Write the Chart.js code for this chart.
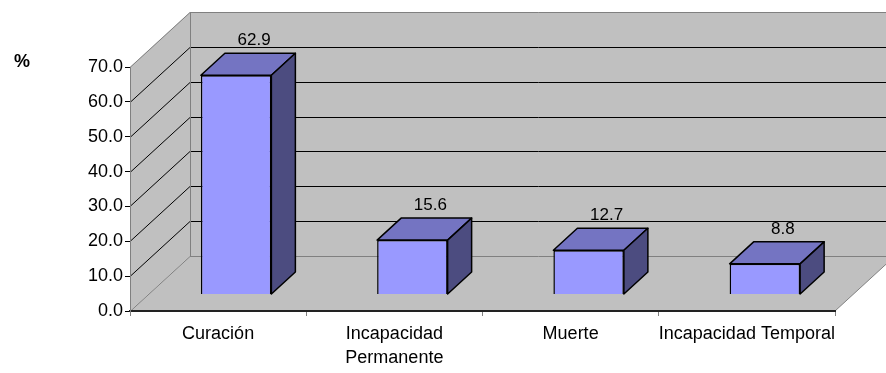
<!DOCTYPE html>
<html>
<head>
<meta charset="utf-8">
<script src="https://cdn.jsdelivr.net/npm/chart.js@4.4.1/dist/chart.umd.min.js"></script>
<style>
  html, body { margin: 0; padding: 0; background: #ffffff; }
  canvas { display: block; }
</style>
</head>
<body>
<canvas id="chart" width="886" height="373"></canvas>
<script>
// Outcome categories (multi-line labels as arrays)
const categories = [
  ['Curación'],
  ['Incapacidad', 'Permanente'],
  ['Muerte'],
  ['Incapacidad Temporal']
];
// Percentage for each outcome
const values = [62.9, 15.6, 12.7, 8.8];
// Value axis range and step
const yMin = 0;
const yMax = 70;
const yStep = 10;
const yAxisTitle = '%';

const FONT = "'Liberation Sans', Arial, sans-serif";

// 3D look: wall depth and the bar slab placement within that depth
const DEPTH_X = 60, DEPTH_Y = 55;
const BAR_FRONT = 0.3, BAR_DEPTH = 0.4;

const COLORS = {
  wall: '#c0c0c0',
  wallEdge: '#808080',
  grid: '#000000',
  front: '#9999ff',
  top: '#7474c2',
  side: '#4c4c80',
  outline: '#000000'
};

const walls3d = {
  id: 'walls3d',
  beforeDraw(chart) {
    const { ctx, chartArea: a, scales } = chart;
    const y = scales.y;
    const L = a.left, R = a.right, T = a.top, B = a.bottom;
    ctx.save();
    ctx.fillStyle = '#ffffff';
    ctx.fillRect(0, 0, chart.width, chart.height);

    // back wall
    ctx.fillStyle = COLORS.wall;
    ctx.fillRect(L + DEPTH_X, T - DEPTH_Y, R - L, B - T);
    // side wall
    ctx.beginPath();
    ctx.moveTo(L, T); ctx.lineTo(L + DEPTH_X, T - DEPTH_Y);
    ctx.lineTo(L + DEPTH_X, B - DEPTH_Y); ctx.lineTo(L, B);
    ctx.closePath(); ctx.fill();
    // floor
    ctx.beginPath();
    ctx.moveTo(L, B); ctx.lineTo(R, B);
    ctx.lineTo(R + DEPTH_X, B - DEPTH_Y); ctx.lineTo(L + DEPTH_X, B - DEPTH_Y);
    ctx.closePath(); ctx.fill();

    // gridlines on back and side walls
    ctx.lineWidth = 1;
    for (let v = yMin; v <= yMax; v += yStep) {
      const py = Math.round(y.getPixelForValue(v)) + 0.5;
      const edge = (v === yMin || v === yMax);
      ctx.strokeStyle = edge ? COLORS.wallEdge : COLORS.grid;
      ctx.beginPath();
      ctx.moveTo(L, py); ctx.lineTo(L + DEPTH_X, py - DEPTH_Y);
      ctx.lineTo(R + DEPTH_X, py - DEPTH_Y);
      ctx.stroke();
    }
    // wall edges
    ctx.strokeStyle = COLORS.wallEdge;
    ctx.beginPath();
    ctx.moveTo(L + DEPTH_X + 0.5, T - DEPTH_Y);
    ctx.lineTo(L + DEPTH_X + 0.5, B - DEPTH_Y);
    ctx.moveTo(R, B); ctx.lineTo(R + DEPTH_X, B - DEPTH_Y);
    ctx.stroke();

    // value-axis unit
    ctx.fillStyle = '#000';
    ctx.font = 'bold 18px ' + FONT;
    ctx.textAlign = 'center';
    ctx.textBaseline = 'middle';
    ctx.fillText(yAxisTitle, 22, T - 5);
    ctx.restore();
  },
  beforeDatasetsDraw(chart) {
    chart.ctx.save();
    chart.ctx.translate(DEPTH_X * BAR_FRONT, -DEPTH_Y * BAR_FRONT);
  },
  afterDatasetsDraw(chart) {
    const ctx = chart.ctx;
    const meta = chart.getDatasetMeta(0);
    const dx = DEPTH_X * BAR_DEPTH, dy = DEPTH_Y * BAR_DEPTH;
    ctx.lineWidth = 1.5;
    ctx.strokeStyle = COLORS.outline;
    ctx.lineJoin = 'round';
    meta.data.forEach((bar, i) => {
      const p = bar.getProps(['x', 'y', 'base', 'width'], true);
      const l = p.x - p.width / 2, r = p.x + p.width / 2;
      // top face
      ctx.fillStyle = COLORS.top;
      ctx.beginPath();
      ctx.moveTo(l, p.y); ctx.lineTo(r, p.y);
      ctx.lineTo(r + dx, p.y - dy); ctx.lineTo(l + dx, p.y - dy);
      ctx.closePath(); ctx.fill(); ctx.stroke();
      // side face
      ctx.fillStyle = COLORS.side;
      ctx.beginPath();
      ctx.moveTo(r, p.y); ctx.lineTo(r + dx, p.y - dy);
      ctx.lineTo(r + dx, p.base - dy); ctx.lineTo(r, p.base);
      ctx.closePath(); ctx.fill(); ctx.stroke();
      // value label
      ctx.fillStyle = '#000';
      ctx.font = '17px ' + FONT;
      ctx.textAlign = 'center';
      ctx.textBaseline = 'middle';
      ctx.fillText(values[i].toFixed(1), p.x + 18, p.y - 35);
    });
    ctx.restore();
  }
};

new Chart(document.getElementById('chart'), {
  type: 'bar',
  data: {
    labels: categories,
    datasets: [{
      data: values,
      backgroundColor: COLORS.front,
      borderColor: COLORS.outline,
      borderWidth: 1.5,
      barPercentage: 0.4,
      categoryPercentage: 1.0
    }]
  },
  options: {
    responsive: false,
    animation: false,
    layout: { padding: { top: 67, right: 51, bottom: 0, left: 0 } },
    plugins: { legend: { display: false }, tooltip: { enabled: false } },
    scales: {
      x: {
        afterFit(scale) { scale.height = 62; },
        grid: { drawOnChartArea: false, drawTicks: true, tickLength: 5, color: '#808080', offset: true },
        border: { display: true, color: '#222222', width: 2 },
        ticks: {
          color: '#000', padding: 6, maxRotation: 0, autoSkip: false,
          font: { family: FONT, size: 18, lineHeight: 1.33 }
        }
      },
      y: {
        min: yMin, max: yMax,
        afterFit(scale) { scale.width = 130; },
        grid: { drawOnChartArea: false, drawTicks: true, tickLength: 5, color: '#000000' },
        border: { display: true, color: '#808080', width: 1 },
        ticks: {
          stepSize: yStep, color: '#000', padding: 2,
          font: { family: FONT, size: 18 },
          callback: (v) => Number(v).toFixed(1)
        }
      }
    }
  },
  plugins: [walls3d]
});
</script>
</body>
</html>
